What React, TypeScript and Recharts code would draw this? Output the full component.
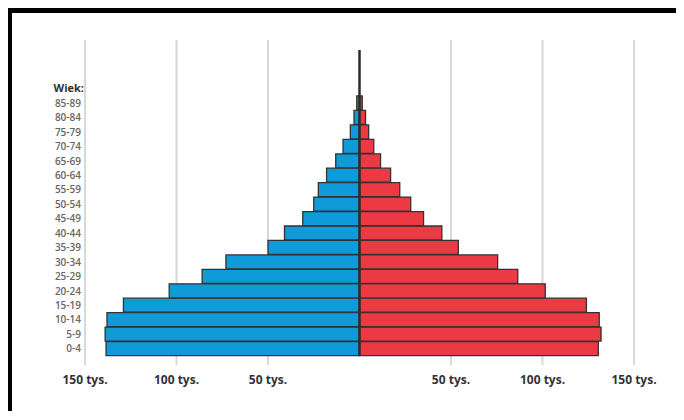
import {
  Bar,
  BarChart,
  CartesianGrid,
  ReferenceLine,
  XAxis,
  YAxis,
} from "recharts";

// age groups, bottom to top
const ageGroups = [
  "0-4", "5-9", "10-14", "15-19", "20-24", "25-29", "30-34", "35-39", "40-44",
  "45-49", "50-54", "55-59", "60-64", "65-69", "70-74", "75-79", "80-84", "85-89",
];

// thousands of people
const men = [138.5, 139, 138, 129, 104, 86, 73, 50, 41, 31, 25, 22.5, 18, 13, 9, 5, 3, 1.5];
const women = [130.5, 132, 131, 124, 101.5, 86.5, 75.5, 54, 45, 35, 28, 22, 17, 11.5, 7.8, 5, 3.3, 1.5];

const xTicks = [-150, -100, -50, 50, 100, 150];
const axisTitle = "Wiek:";

const data = ageGroups.map((age, i) => ({
  age,
  men: -men[i],
  women: women[i],
}));

const FONT = "'Open Sans', sans-serif";

export default function App() {
  return (
    <div
      style={{
        position: "relative",
        width: 677,
        height: 411,
        marginLeft: -1,
        marginBottom: -8,
        boxSizing: "border-box",
        borderTop: "5px solid #000",
        borderLeft: "5px solid #000",
        borderRight: "1px solid #ddd",
        borderBottom: "1px solid #ddd",
        background: "#fff",
      }}
    >
      <div style={{ position: "absolute", left: -12, top: -13 }}>
        <BarChart
          width={684}
          height={420}
          data={data}
          layout="vertical"
          stackOffset="sign"
          barCategoryGap={0}
          margin={{ top: 40, right: 50, bottom: 25, left: 0 }}
        >
          <CartesianGrid horizontal={false} stroke="#d8d8d8" strokeWidth={2} />
          <XAxis
            type="number"
            domain={[-150, 150]}
            ticks={xTicks}
            axisLine={false}
            tickLine={false}
            tickMargin={4}
            tickFormatter={(v) => `${Math.abs(v)} tys.`}
            tick={{ fill: "#333", fontSize: 12, fontWeight: 700, fontFamily: FONT }}
          />
          <YAxis
            type="category"
            dataKey="age"
            reversed
            width={85}
            padding={{ top: 56, bottom: 9 }}
            axisLine={false}
            tickLine={false}
            tickSize={4}
            tickMargin={0}
            interval={0}
            tick={{ fill: "#666", fontSize: 10, fontWeight: 600, fontFamily: FONT }}
            label={{
              content: (props: any) => {
                const vb = props.viewBox;
                return (
                  <text
                    x={vb.x + vb.width - 1}
                    y={vb.y + 52}
                    textAnchor="end"
                    fill="#333"
                    fontSize={11}
                    fontWeight={700}
                    fontFamily={FONT}
                  >
                    {axisTitle}
                  </text>
                );
              },
            }}
          />
          {/* hidden axis used only to place the centre stem */}
          <YAxis
            yAxisId="stem"
            type="category"
            dataKey="age"
            reversed
            hide
            padding={{ top: 1, bottom: 0 }}
          />
          <Bar
            dataKey="men"
            stackId="p"
            fill="#0f9bd7"
            stroke="#333"
            strokeWidth={1.3}
            isAnimationActive={false}
          />
          <Bar
            dataKey="women"
            stackId="p"
            fill="#ec3a44"
            stroke="#333"
            strokeWidth={1.3}
            isAnimationActive={false}
          />
          <ReferenceLine
            yAxisId="stem"
            segment={[
              { x: 0, y: ageGroups[ageGroups.length - 1] },
              { x: 0, y: ageGroups[0] },
            ]}
            stroke="#2b2b2b"
            strokeWidth={2.5}
          />
        </BarChart>
      </div>
    </div>
  );
}
